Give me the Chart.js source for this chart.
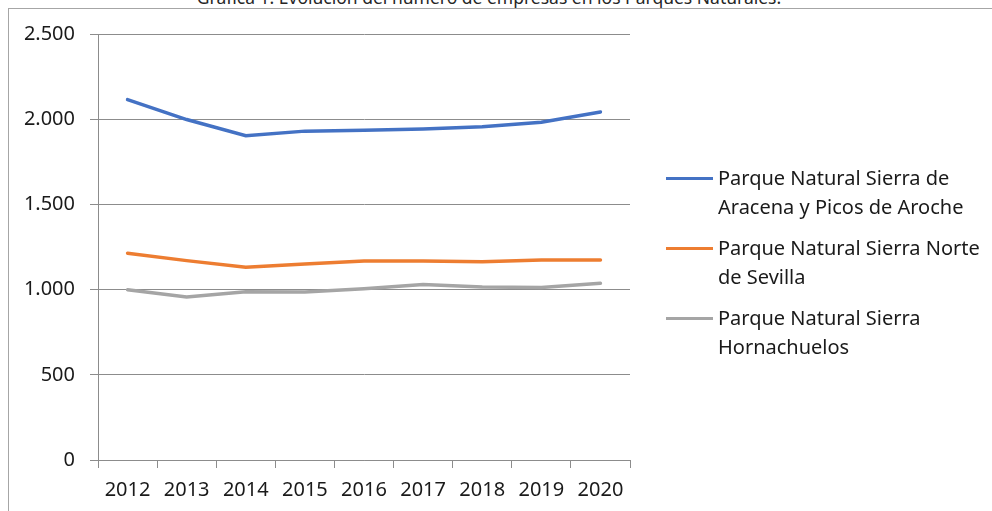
<!DOCTYPE html>
<html>
<head>
<meta charset="utf-8">
<script src="https://cdn.jsdelivr.net/npm/chart.js@4.4.0/dist/chart.umd.min.js"></script>
<style>
  html, body { margin: 0; padding: 0; background: #fff; overflow: hidden; }
  body { width: 992px; height: 511px; position: relative; font-family: "Noto Sans", sans-serif; }
  #caption {
    position: absolute; left: 0; top: -11px; width: 978px; text-align: center;
    font-size: 17.5px; line-height: 17px; color: #262626; white-space: nowrap;
  }
  #frame {
    position: absolute; left: 8px; top: 8px; width: 1000px; height: 600px;
    border-left: 1px solid #a6a6a6; border-top: 1px solid #a6a6a6;
  }
  #chartBox { position: absolute; left: 9px; top: 9px; width: 983px; height: 502px; }
  #legend { position: absolute; left: 666px; top: 0; }
  .item { position: absolute; left: 0; width: 326px; }
  .swatch { position: absolute; left: 0; width: 47px; height: 3px; }
  .label { position: absolute; left: 52px; font-size: 20px; line-height: 29px; color: #1a1a1a; white-space: nowrap; }
</style>
</head>
<body>
<div id="caption">Gráfica 1. Evolución del número de empresas en los Parques Naturales.</div>
<div id="frame"></div>
<div id="chartBox"><canvas id="parksChart"></canvas></div>
<div id="legend"></div>
<script>
// Data
const years = ['2012', '2013', '2014', '2015', '2016', '2017', '2018', '2019', '2020'];
const aracena = [2115, 1998, 1903, 1930, 1935, 1943, 1956, 1982, 2042];
const norteSevilla = [1213, 1170, 1131, 1150, 1168, 1168, 1163, 1174, 1174];
const hornachuelos = [999, 957, 988, 986, 1005, 1030, 1015, 1013, 1037];
const seriesNames = [
  ['Parque Natural Sierra de', 'Aracena y Picos de Aroche'],
  ['Parque Natural Sierra Norte', 'de Sevilla'],
  ['Parque Natural Sierra', 'Hornachuelos']
];
const seriesColors = ['#4472C4', '#ED7D31', '#A5A5A5'];
const yTicks = [0, 500, 1000, 1500, 2000, 2500];

const gridColor = '#8c8c8c';
const textColor = '#1a1a1a';

function formatThousands(v) {
  return String(v).replace(/\B(?=(\d{3})+(?!\d))/g, '.');
}

const ctx = document.getElementById('parksChart').getContext('2d');
const chart = new Chart(ctx, {
  type: 'line',
  data: {
    labels: years,
    datasets: [aracena, norteSevilla, hornachuelos].map((vals, i) => ({
      label: seriesNames[i].join(' '),
      data: vals,
      borderColor: seriesColors[i],
      backgroundColor: seriesColors[i],
      borderWidth: 3.5,
      pointRadius: 0,
      tension: 0,
      borderCapStyle: 'round'
    }))
  },
  options: {
    responsive: true,
    maintainAspectRatio: false,
    animation: false,
    layout: { padding: { left: 0, right: 362, top: 25, bottom: 11 } },
    plugins: {
      legend: { display: false },
      title: { display: false },
      tooltip: { enabled: false }
    },
    scales: {
      x: {
        offset: true,
        grid: { offset: true, drawOnChartArea: false, tickLength: 8, color: gridColor },
        border: { color: gridColor },
        ticks: { color: textColor, padding: 10, font: { family: 'Noto Sans', size: 20 }, maxRotation: 0 },
        afterFit: s => { s.height = 40; s.paddingLeft = 0; s.paddingRight = 0; }
      },
      y: {
        min: 0,
        max: 2500,
        afterBuildTicks: s => { s.ticks = yTicks.map(v => ({ value: v })); },
        grid: { color: gridColor, tickLength: 8 },
        border: { color: gridColor },
        ticks: {
          color: textColor, padding: 15,
          font: { family: 'Noto Sans', size: 20 },
          callback: v => formatThousands(v)
        },
        afterFit: s => { s.width = 89; s.paddingTop = 0; s.paddingBottom = 0; }
      }
    }
  }
});

// HTML legend with wrapped labels
const legendTops = [178, 248, 318];
const legend = document.getElementById('legend');
chart.data.datasets.forEach((ds, i) => {
  const item = document.createElement('div');
  item.className = 'item';
  item.style.top = (legendTops[i] - 15) + 'px';
  const sw = document.createElement('div');
  sw.className = 'swatch';
  sw.style.background = ds.borderColor;
  sw.style.top = '14px';
  const lab = document.createElement('div');
  lab.className = 'label';
  lab.innerHTML = seriesNames[i].join('<br>');
  item.appendChild(sw);
  item.appendChild(lab);
  legend.appendChild(item);
});
</script>
</body>
</html>
